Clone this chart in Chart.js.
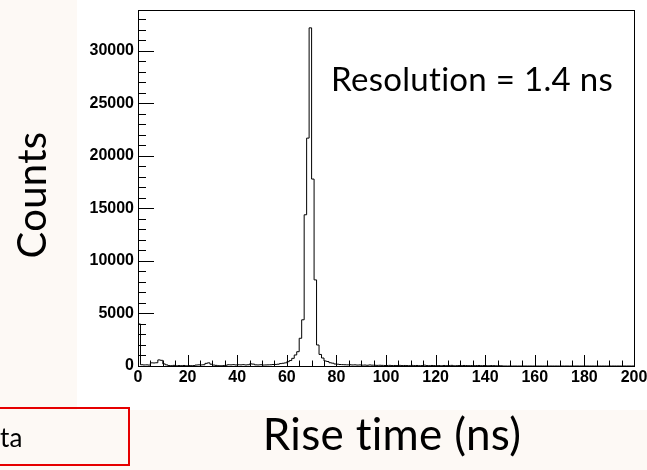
<!DOCTYPE html>
<html>
<head>
<meta charset="utf-8">
<script src="https://cdn.jsdelivr.net/npm/chart.js@4"></script>
<style>
  html, body { margin: 0; padding: 0; background: #fdf9f5; }
  canvas { display: block; }
</style>
</head>
<body>
<canvas id="chart" width="647" height="470"></canvas>
<script>
// rise time histogram, 1 ns bins from 0 to 200 ns
const binStart = 0;
const binWidth = 1;
const counts = [
  4000, 120, 100, 110, 90, 300, 290, 310, 580, 540,
  200, 110, 40, 30, 60, 20, 40, 30, 50, 20,
  40, 30, 40, 90, 110, 100, 120, 250, 300, 170,
  90, 60, 30, 20, 40, 70, 120, 110, 130, 100,
  120, 110, 130, 100, 120, 200, 180, 110, 100, 120,
  90, 100, 110, 120, 140, 150, 170, 230, 260, 300,
  410, 520, 730, 1050, 1360, 2640, 4400, 14400, 21700, 32200,
  17800, 8200, 2000, 1100, 760, 480, 430, 310, 270, 190,
  170, 140, 130, 120, 110, 120, 100, 110, 90, 100,
  80, 90, 70, 100, 80, 70, 60, 70, 60, 50,
  50, 60, 40, 50, 40, 60, 40, 50, 40, 30,
  60, 40, 50, 30, 40, 80, 40, 30, 50, 40,
  30, 40, 20, 50, 30, 40, 60, 20, 30, 40,
  30, 50, 40, 30, 40, 30, 40, 50, 30, 40,
  30, 20, 40, 30, 20, 30, 20, 0, 0, 0,
  0, 0, 0, 0, 0, 0, 0, 0, 0, 0,
  0, 0, 0, 0, 0, 0, 0, 0, 0, 0,
  0, 0, 0, 0, 0, 0, 0, 0, 0, 0,
  0, 0, 0, 0, 0, 0, 0, 0, 0, 0,
  0, 0, 0, 0, 0, 0, 0, 0, 0, 0
];
const xMin = 0, xMax = 200;
const yMin = 0, yMax = 33900;
const xTickValues = [0, 20, 40, 60, 80, 100, 120, 140, 160, 180, 200];
const yTickValues = [0, 5000, 10000, 15000, 20000, 25000, 30000];
const xMinorStep = 5;
const yMinorStep = 1000;
const xTitle = 'Rise time (ns)';
const yTitle = 'Counts';
const resolutionText = 'Resolution = 1.4 ns';
const boxText = 'ta';

const points = counts.map((c, i) => ({ x: binStart + i * binWidth, y: c }));
points.push({ x: binStart + counts.length * binWidth, y: counts[counts.length - 1] });

const tickFont = { family: 'Liberation Sans', weight: 'bold', size: 16 };

// ROOT look: white pad, frame, ticks drawn inside the frame
const rootStyle = {
  id: 'rootStyle',
  beforeDraw(chart) {
    const ctx = chart.ctx;
    ctx.save();
    ctx.fillStyle = '#fdf9f5';
    ctx.fillRect(0, 0, chart.width, chart.height);
    ctx.fillStyle = '#ffffff';
    ctx.fillRect(77, 0, chart.width - 77, 410);
    ctx.restore();
  },
  afterDatasetsDraw(chart) {
    const { ctx, chartArea: a, scales: { x, y } } = chart;
    ctx.save();
    ctx.strokeStyle = '#000';
    ctx.lineWidth = 1;
    ctx.beginPath();
    for (let v = xMin; v <= xMax; v += xMinorStep) {
      const px = Math.round(x.getPixelForValue(v)) + 0.5;
      const len = xTickValues.includes(v) ? 11 : 5.5;
      ctx.moveTo(px, a.bottom);
      ctx.lineTo(px, a.bottom - len);
    }
    for (let v = yMin; v <= yMax; v += yMinorStep) {
      const py = Math.round(y.getPixelForValue(v)) + 0.5;
      const len = yTickValues.includes(v) ? 16 : 8;
      ctx.moveTo(a.left, py);
      ctx.lineTo(a.left + len, py);
    }
    ctx.stroke();
    ctx.strokeRect(Math.round(a.left) + 0.5, Math.round(a.top) + 0.5,
      Math.round(a.right - a.left), Math.round(a.bottom - a.top));
    ctx.restore();
  },
  afterDraw(chart) {
    const ctx = chart.ctx;
    ctx.save();
    ctx.letterSpacing = '0.3px';
    ctx.fillStyle = '#000';
    ctx.textBaseline = 'alphabetic';

    ctx.font = '33px Lato';
    ctx.fillText(resolutionText, 331, 91);

    ctx.font = '44px Lato';
    ctx.textAlign = 'center';
    ctx.fillText(xTitle, 392, 450);

    ctx.save();
    ctx.translate(46, 195);
    ctx.rotate(-Math.PI / 2);
    ctx.font = '40px Lato';
    ctx.fillText(yTitle, 0, 0);
    ctx.restore();

    ctx.strokeStyle = '#e60000';
    ctx.lineWidth = 2;
    ctx.strokeRect(-5, 408, 134, 57);
    ctx.textAlign = 'left';
    ctx.font = '26px Lato';
    ctx.fillText(boxText, 0, 447);
    ctx.restore();
  }
};

new Chart(document.getElementById('chart').getContext('2d'), {
  type: 'line',
  data: {
    datasets: [{
      data: points,
      stepped: true,
      borderColor: '#000',
      borderWidth: 1,
      pointRadius: 0,
      fill: false
    }]
  },
  options: {
    responsive: false,
    animation: false,
    devicePixelRatio: 1,
    layout: { padding: { top: 10, left: 0, right: 0, bottom: 0 } },
    plugins: {
      legend: { display: false },
      tooltip: { enabled: false }
    },
    scales: {
      x: {
        type: 'linear',
        min: xMin,
        max: xMax,
        afterBuildTicks: s => { s.ticks = xTickValues.map(v => ({ value: v })); },
        afterFit: s => { s.height = 104; s.paddingLeft = 0; s.paddingRight = 13; },
        grid: { display: false, drawTicks: false },
        border: { display: false },
        ticks: {
          font: tickFont,
          color: '#000',
          padding: 2,
          maxRotation: 0,
          autoSkip: false,
          callback: v => String(v)
        },
        title: { display: false, text: xTitle }
      },
      y: {
        type: 'linear',
        min: yMin,
        max: yMax,
        afterBuildTicks: s => { s.ticks = yTickValues.map(v => ({ value: v })); },
        afterFit: s => { s.width = 138; s.paddingTop = 0; s.paddingBottom = 0; },
        grid: { display: false, drawTicks: false },
        border: { display: false },
        ticks: {
          font: tickFont,
          color: '#000',
          padding: 4,
          callback: v => String(v)
        },
        title: { display: false, text: yTitle }
      }
    }
  },
  plugins: [rootStyle]
});
</script>
</body>
</html>
